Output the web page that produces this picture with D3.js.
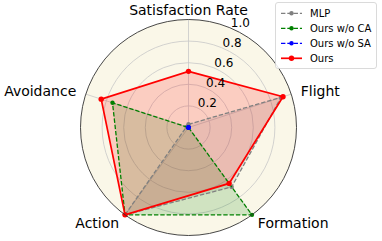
<!DOCTYPE html>
<html><head><meta charset="utf-8">
<script src="https://cdn.jsdelivr.net/npm/d3@7"></script>
<style>html,body{margin:0;padding:0;background:#fff;}svg{display:block;}</style>
</head><body>
<svg id="chart" width="382" height="241"></svg>
<script>
const categories = ["Satisfaction Rate", "Flight", "Formation", "Action", "Avoidance"];
const seriesNames = ["MLP", "Ours w/o CA", "Ours w/o SA", "Ours"];
const mlpValues = [0.03, 0.90, 0.68, 1.0, 0.02];
const woCAValues = [0.0, 0.0, 1.0, 1.0, 0.74];
const woSAValues = [0.0, 0.0, 0.0, 0.0, 0.0];
const oursValues = [0.52, 0.92, 0.64, 1.0, 0.85];
const radialTicks = [0.2, 0.4, 0.6, 0.8, 1.0];

const series = [
  {name: seriesNames[0], values: mlpValues, color: "#808080", dash: "4.4,1.9", width: 1.3, r: 2.2},
  {name: seriesNames[1], values: woCAValues, color: "#008000", dash: "4.4,1.9", width: 1.3, r: 2.2},
  {name: seriesNames[2], values: woSAValues, color: "#0000ff", dash: "4.4,1.9", width: 1.3, r: 2.2},
  {name: seriesNames[3], values: oursValues, color: "#ff0000", dash: null, width: 1.7, r: 2.7}
];

const cx = 188.5, cy = 127.5, R = 108;
const svg = d3.select("#chart");
const g = svg.append("g").attr("transform", `translate(${cx},${cy})`);
const rScale = d3.scaleLinear().domain([0, 1]).range([0, R]);
const angle = d3.scaleLinear().domain([0, categories.length]).range([0, 2 * Math.PI]);
const font = "DejaVu Sans, sans-serif";

// background
g.append("circle").attr("r", R).attr("fill", "#faf7e8");

// grid circles
g.selectAll(".grid").data(radialTicks.filter(d => d < 1)).enter().append("circle")
  .attr("r", d => rScale(d)).attr("fill", "none").attr("stroke", "#c8c8c8").attr("stroke-width", 0.8);

// spokes
categories.forEach((c, i) => {
  const a = angle(i);
  g.append("line").attr("x1", 0).attr("y1", 0)
    .attr("x2", R * Math.sin(a)).attr("y2", -R * Math.cos(a))
    .attr("stroke", "#c8c8c8").attr("stroke-width", 0.8);
});

// series
const radial = d3.lineRadial().angle((d, i) => angle(i)).radius(d => rScale(d)).curve(d3.curveLinearClosed);
series.forEach(s => {
  g.append("path").attr("d", radial(s.values)).attr("fill", s.color).attr("fill-opacity", 0.17).attr("stroke", "none");
});
series.forEach(s => {
  g.append("path").attr("d", radial(s.values)).attr("fill", "none")
    .attr("stroke", s.color).attr("stroke-width", s.width)
    .attr("stroke-dasharray", s.dash);
  g.selectAll(null).data(s.values).enter().append("circle")
    .attr("cx", (d, i) => rScale(d) * Math.sin(angle(i)))
    .attr("cy", (d, i) => -rScale(d) * Math.cos(angle(i)))
    .attr("r", s.r).attr("fill", s.color);
});

// outer spine
g.append("circle").attr("r", R).attr("fill", "none").attr("stroke", "#333").attr("stroke-width", 0.9);

// radial tick labels
const la = 22.5 * Math.PI / 180;
g.selectAll(".rt").data(radialTicks).enter().append("text")
  .attr("x", d => rScale(d) * Math.sin(la) + 1)
  .attr("y", d => -rScale(d) * Math.cos(la) - 0.5)
  .attr("font-family", font).attr("font-size", 12).attr("fill", "#000")
  .text(d => d.toFixed(1));

// category labels
categories.forEach((c, i) => {
  const a = angle(i), rr = R + 10;
  const x = rr * Math.sin(a), y = -rr * Math.cos(a);
  const anchor = Math.abs(x) < 1 ? "middle" : (x > 0 ? "start" : "end");
  g.append("text").attr("x", x).attr("y", y)
    .attr("text-anchor", anchor).attr("dominant-baseline", "central")
    .attr("font-family", font).attr("font-size", 14).attr("fill", "#000").text(c);
});

// legend
const lg = svg.append("g");
lg.append("rect").attr("x", 275.5).attr("y", 2.5).attr("width", 101).attr("height", 66)
  .attr("rx", 2.5).attr("fill", "#fff").attr("fill-opacity", 0.85).attr("stroke", "#d0d0d0").attr("stroke-width", 0.8);
series.forEach((s, i) => {
  const y = 13.3 + i * 15;
  lg.append("line").attr("x1", 281).attr("x2", 302).attr("y1", y).attr("y2", y)
    .attr("stroke", s.color).attr("stroke-width", s.width).attr("stroke-dasharray", s.dash);
  lg.append("circle").attr("cx", 291.5).attr("cy", y).attr("r", s.r).attr("fill", s.color);
  lg.append("text").attr("x", 310).attr("y", y).attr("dominant-baseline", "central")
    .attr("font-family", font).attr("font-size", 10).attr("fill", "#000").text(s.name);
});
</script>
</body></html>
